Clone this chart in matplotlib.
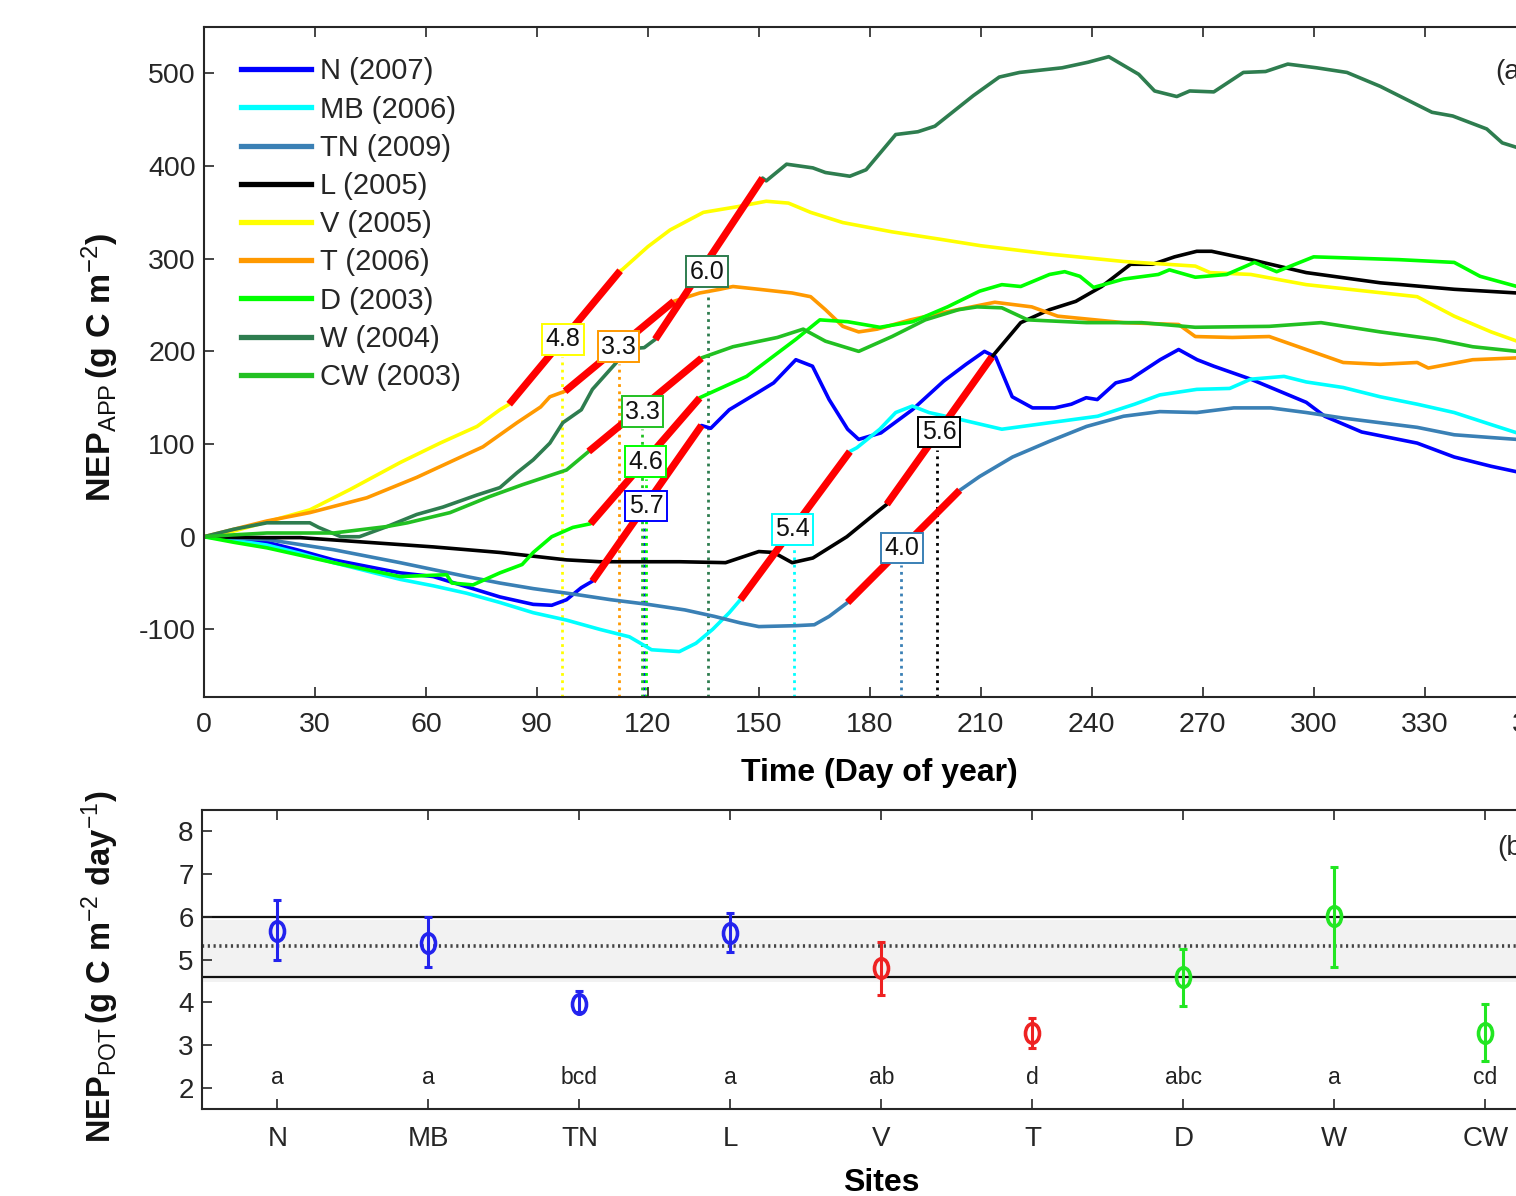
import matplotlib
matplotlib.use("Agg")
import matplotlib.pyplot as plt
from matplotlib.lines import Line2D
from matplotlib.path import Path
import numpy as np

plt.rcParams['font.family'] = ['Liberation Sans', 'DejaVu Sans']
plt.rcParams['mathtext.fontset'] = 'custom'
plt.rcParams['mathtext.rm'] = 'Liberation Sans'
plt.rcParams['mathtext.bf'] = 'Liberation Sans:bold'
plt.rcParams['mathtext.it'] = 'Liberation Sans:italic'
plt.rcParams['axes.unicode_minus'] = False

# ---------------- data: panel (a) cumulative NEP ----------------
labels = ['N (2007)', 'MB (2006)', 'TN (2009)', 'L (2005)', 'V (2005)',
          'T (2006)', 'D (2003)', 'W (2004)', 'CW (2003)']
colors = ['#0000FF', '#00FFFF', '#3A80B5', '#000000', '#FFFF00',
          '#FF9900', '#00FF00', '#2E7D4F', '#22C022']

n_day = [0, 10, 17, 25, 35, 44, 53, 62, 71, 80, 89, 94, 98, 102, 105, 134.5, 137, 142, 149.5, 154, 160, 164.5,
         169, 174, 177, 183, 191.5, 200, 206, 211, 214, 218.5, 224, 230, 234.5, 238.5, 241.5, 246.5, 250.5,
         258.5, 263.5, 268.5, 273, 283, 298, 303, 313, 328, 338, 348, 355, 365]
n_val = [0, -3, -6, -14, -25, -32, -39, -43, -54, -65, -73, -74, -68, -55, -48, 120, 117, 137, 155, 166, 191, 184,
         148, 116, 105, 112, 137, 168, 186, 200, 194, 151, 139, 139, 143, 150, 148, 166, 170,
         191, 202, 191, 184, 170, 145, 130, 113, 101, 86, 76, 70, 64]

mb_day = [0, 10, 17, 26, 35, 44, 53, 62, 71, 80, 89, 98, 107, 115, 121, 128.5, 133, 137.5, 142, 145, 174.6,
          176.5, 182.7, 187, 191.5, 196, 205, 215.7, 228.6, 241.6, 251.6, 258.4, 268.4, 277.3, 283, 292, 298,
          308, 318, 328, 338, 348, 355, 365]
mb_val = [0, -5, -9, -18, -28, -37, -46, -53, -61, -71, -82, -90, -100, -108, -122, -124, -115, -100, -82, -68, 92,
          96, 116, 134, 141, 134, 126, 116, 123, 130, 143, 153, 159, 160, 170, 173, 167,
          161, 151, 143, 134, 121, 112, 102]

tn_day = [0, 17, 35, 53, 71, 80, 89, 100, 110, 120, 130, 138, 145, 150, 160, 165, 169, 174, 204.3, 209.7,
          218.6, 228.6, 238.6, 248.6, 258.4, 268.4, 278.4, 288.4, 298, 308, 318, 328, 338, 348, 355, 365]
tn_val = [0, -3, -14, -28, -43, -50, -56, -62, -68, -73, -79, -86, -93, -97, -96, -95, -86, -71, 50, 65,
          86, 103, 119, 130, 135, 134, 139, 139, 134, 128, 123, 118, 110, 107, 105, 104]

l_day = [0, 17, 26, 44, 62, 80, 98, 107, 128.6, 141, 150, 154, 159, 164.6, 173.8, 182.7, 184.6, 213, 220.8,
         228.6, 235.7, 242.7, 250.5, 256.5, 262.4, 268.4, 272.4, 283, 298, 318, 338, 355, 365]
l_val = [0, -1, -1, -6, -11, -17, -25, -27, -27, -28, -16, -17, -28, -23, 0, 29, 35, 194, 231,
         245, 254, 270, 294, 294, 302, 308, 308, 299, 285, 274, 267, 263, 260]

v_day = [0, 8, 17, 28.6, 39.5, 53, 63.8, 73.8, 80, 82.5, 112.5, 113, 120, 126, 135, 144, 152, 158, 164,
         172.7, 186, 199, 210, 228.6, 248.6, 268, 272, 283, 298, 328, 338, 348, 355, 365]
v_val = [0, 6, 16, 29, 51, 80, 101, 119, 137, 143, 287, 288, 313, 331, 350, 356, 362, 360, 350,
         339, 329, 321, 314, 305, 297, 292, 285, 283, 272, 259, 238, 221, 211, 200]

t_day = [0, 8, 17, 28.6, 44, 57.5, 64, 75.4, 84.6, 91, 93.5, 97.6, 127, 134, 139.5, 143, 150, 159, 164, 168,
         172.7, 177, 182, 191, 200, 213.8, 223.8, 230.8, 248.6, 263.5, 268, 278, 288, 298, 308, 318, 328, 331,
         343, 355, 365]
t_val = [0, 8, 17, 26, 42, 64, 76, 97, 123, 140, 151, 157, 254, 263, 267, 270, 267, 263, 259, 245,
         227, 221, 224, 234, 242, 253, 248, 238, 231, 229, 216, 215, 216, 202, 188, 186, 188, 182,
         191, 193, 193]

d_day = [0, 8, 17, 35, 53, 65.6, 67, 72.7, 80, 86, 89, 94, 99.7, 104.5, 134, 146.7, 160, 166.5, 174, 182.7,
         191.6, 201, 209.7, 215.7, 220.8, 228.6, 232.7, 236.8, 240.5, 248.6, 258, 261, 268, 276.5, 284, 290,
         300, 308, 323, 338, 345, 355, 365]
d_val = [0, -6, -12, -28, -43, -41, -50, -52, -39, -30, -17, 0, 10, 14, 150, 173, 213, 234, 232, 226,
         232, 248, 265, 272, 270, 283, 286, 281, 269, 278, 283, 288, 280, 283, 296, 286,
         302, 301, 299, 296, 281, 270, 262]

w_day = [0, 8, 17, 28.6, 31, 37, 42, 49.5, 57.5, 64.6, 73.8, 80, 84.6, 89, 93.5, 97, 102, 105, 111.5, 112,
         119, 122, 151, 152, 157.5, 164.6, 168, 174.6, 179, 187, 193, 197.6, 208, 215, 220.5, 232, 239, 244.6,
         252.7, 257, 263, 266.5, 273, 281, 287, 293, 300.8, 309, 318, 332, 337.6, 346.8, 351, 355, 365]
w_val = [0, 8, 15, 15, 10, 0, 0, 11, 24, 32, 45, 53, 69, 83, 101, 123, 137, 159, 188, 202,
         204, 213, 387, 384, 402, 398, 393, 389, 396, 434, 437, 443, 476, 496, 501, 506, 512, 518,
         499, 481, 475, 481, 480, 501, 502, 510, 506, 501, 486, 458, 454, 440, 425, 420, 408]

cw_day = [0, 8, 17, 35, 49.5, 55, 66.5, 77, 86, 98, 104, 134.5, 143, 155, 162, 168, 177, 186, 195, 204, 209,
          215.7, 222.7, 238.6, 253.5, 268, 288, 302, 318, 333, 343, 355, 365]
cw_val = [0, 2, 4, 4, 11, 15, 26, 43, 56, 72, 92, 193, 205, 215, 224, 211, 200, 216, 234, 245, 248,
          247, 234, 231, 231, 226, 227, 231, 221, 213, 205, 200, 197]

days = [n_day, mb_day, tn_day, l_day, v_day, t_day, d_day, w_day, cw_day]
vals = [n_val, mb_val, tn_val, l_val, v_val, t_val, d_val, w_val, cw_val]

# NEP_POT fits (red segments): start day, start value, end day, slope
fit_start = [105, 145, 174, 184.6, 82.5, 97.6, 104.5, 122, 104]
fit_v0 = [-48, -68, -71, 35, 143, 157, 14, 213, 92]
fit_end = [134.5, 174.6, 204.3, 213, 112.5, 127, 134, 151, 134.5]
fit_slope = [5.7, 5.4, 4.0, 5.6, 4.8, 3.3, 4.6, 6.0, 3.3]
# label boxes (day, value) and dotted guide day
box_day = [119.5, 159, 188.7, 198.7, 97, 112, 119.3, 136, 118.6]
box_val = [33, 8, -12, 113, 213, 205, 81, 286, 135]
guide_day = [119.0, 159.5, 188.3, 198.3, 96.8, 112.2, 119.6, 136.2, 118.3]

# ---------------- data: panel (b) ----------------
sites = ['N', 'MB', 'TN', 'L', 'V', 'T', 'D', 'W', 'CW']
pot_mean = [5.68, 5.39, 3.97, 5.62, 4.81, 3.28, 4.60, 6.01, 3.28]
pot_low = [4.98, 4.83, 3.77, 5.17, 4.18, 2.94, 3.91, 4.82, 2.63]
pot_high = [6.40, 5.99, 4.26, 6.09, 5.40, 3.62, 5.25, 7.17, 3.95]
site_colors = ['#2323EE', '#2323EE', '#2323EE', '#2323EE', '#EE2222', '#EE2222', '#22E622', '#22E622', '#22E622']
groups = ['a', 'a', 'bcd', 'a', 'ab', 'd', 'abc', 'a', 'cd']
overall_mean = 5.31
band_low, band_high = 4.47, 5.93
line_low, line_high = 4.60, 6.00

axis_col = '#262626'

fig = plt.figure(figsize=(15.16, 11.96), dpi=100)
ax1 = fig.add_axes([0.1346, 0.4172, 0.8905, 0.5602])
ax2 = fig.add_axes([0.1332, 0.0727, 0.8964, 0.2500])

# ---------- panel (a) ----------
ymin1 = -173
for d, v, c in zip(days, vals, colors):
    ax1.plot(d, v, color=c, lw=2.6, zorder=2, solid_joinstyle='round')

for i in range(len(labels)):
    x0, x1 = fit_start[i], fit_end[i]
    y0 = fit_v0[i]
    y1 = y0 + fit_slope[i] * (x1 - x0)
    ax1.plot([x0, x1], [y0, y1], color='#FF0000', lw=5.2, zorder=3, solid_capstyle='butt')
    ax1.plot([guide_day[i], guide_day[i]], [ymin1, box_val[i] - 19], color=colors[i],
             lw=2.0, ls=(0, (1, 1.6)), zorder=1)
    ax1.text(box_day[i], box_val[i], f'{fit_slope[i]:.1f}', ha='center', va='center',
             fontsize=18, color='#111111', zorder=6,
             bbox=dict(boxstyle='square,pad=0.13', fc='white', ec=colors[i], lw=1.4))

ax1.set_xlim(0, 365)
ax1.set_ylim(ymin1, 550)
ax1.set_xticks(np.arange(0, 361, 30))
ax1.set_yticks(np.arange(-100, 501, 100))
ax1.tick_params(direction='in', length=7, width=1.2, colors=axis_col, labelsize=20.5,
                top=True, right=True)
ax1.tick_params(axis='x', pad=11)
ax1.tick_params(axis='y', pad=6)
for s in ax1.spines.values():
    s.set_color(axis_col)
    s.set_linewidth(1.5)
ax1.set_xlabel('Time (Day of year)', fontsize=23, fontweight='bold', labelpad=14)

handles = [Line2D([], [], color=c, lw=3.8) for c in colors]
ax1.legend(handles, labels, loc='upper left', bbox_to_anchor=(0.019, 0.972), frameon=False,
           fontsize=21, handlelength=2.4, handletextpad=0.28, labelspacing=0.35,
           borderaxespad=0.0, labelcolor=axis_col)

fig.text(1495 / 1516, 1 - 72 / 1196, '(a)', fontsize=20, color=axis_col, ha='left', va='center')
fig.text(100 / 1516, 1 - 367 / 1196,
         r'$\mathbf{NEP}_{\mathrm{APP}}\,\mathbf{(g\ C\ m}^{\mathrm{-2}}\mathbf{)}$',
         rotation=90, fontsize=24.5, ha='center', va='center', color='#111111')

# ---------- panel (b) ----------
xs = np.arange(1, len(sites) + 1)
ax2.axhspan(band_low, band_high, color='#F2F2F2', zorder=0, lw=0)
ax2.axhline(line_high, color='#111111', lw=1.6, zorder=1)
ax2.axhline(line_low, color='#111111', lw=1.6, zorder=1)
ax2.axhline(overall_mean, color='#444444', lw=2.6, ls=(0, (0.6, 1.0)), zorder=1)

circ = Path.unit_circle()
ell = Path(circ.vertices * np.array([0.72, 1.0]), circ.codes)
for x, m, lo, hi, c in zip(xs, pot_mean, pot_low, pot_high, site_colors):
    ax2.errorbar([x], [m], yerr=[[m - lo], [hi - m]], fmt='none', ecolor=c, elinewidth=2.2,
                 capsize=3, capthick=2.2, zorder=3)
    ax2.plot([x], [m], marker=ell, ms=14, mfc='none', mec=c, mew=2.6, ls='none', zorder=4)
for x, g in zip(xs, groups):
    ax2.text(x, 2.25, g, ha='center', va='center', fontsize=16.5, color='#222222')

ax2.set_xlim(0.5, 9.5)
ax2.set_ylim(1.5, 8.5)
ax2.set_xticks(xs)
ax2.set_xticklabels(sites)
ax2.set_yticks(np.arange(2, 9, 1))
ax2.tick_params(direction='in', length=7, width=1.2, colors=axis_col, labelsize=20,
                top=True, right=True)
ax2.tick_params(axis='x', pad=12)
ax2.tick_params(axis='y', pad=6)
for s in ax2.spines.values():
    s.set_color(axis_col)
    s.set_linewidth(1.5)
ax2.set_xlabel('Sites', fontsize=23, fontweight='bold', labelpad=12)

fig.text(1497 / 1516, 1 - 848 / 1196, '(b)', fontsize=20, color=axis_col, ha='left', va='center')
fig.text(100 / 1516, 1 - 967 / 1196,
         r'$\mathbf{NEP}_{\mathrm{POT}}\,\mathbf{(g\ C\ m}^{\mathrm{-2}}\ \mathbf{day}^{\mathrm{-1}}\mathbf{)}$',
         rotation=90, fontsize=23.5, ha='center', va='center', color='#111111')

fig.savefig('out.png', dpi=100)
